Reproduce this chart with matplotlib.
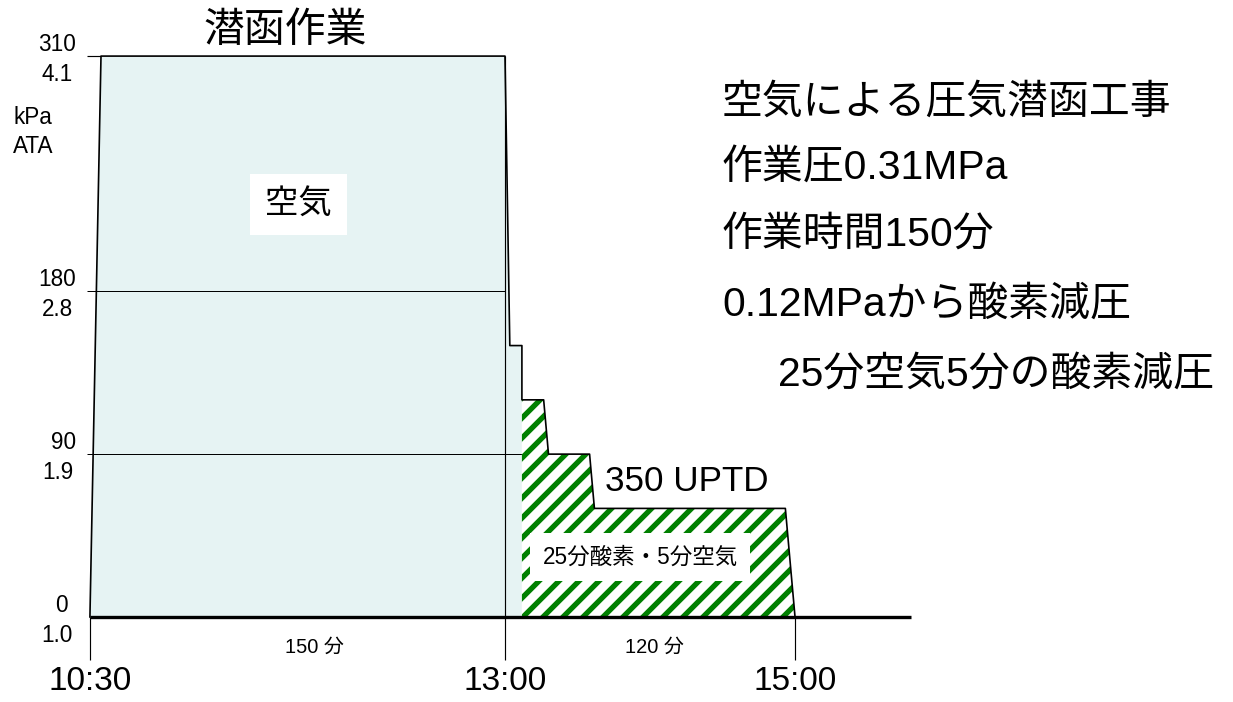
#caisson work pressure profile: air work, then oxygen decompression
import numpy as np
import matplotlib
matplotlib.use('Agg')
import matplotlib.pyplot as plt

plt.rcParams['font.family'] = ['Liberation Sans', 'Noto Sans CJK JP']

# pressure profile, minutes after 10:30 / gauge pressure kPa
prof_t = [0, 4, 150, 152, 157, 157, 166, 168, 185, 187, 266, 270]
prof_p = [0, 310, 310, 150, 150, 120, 120, 90, 90, 60, 60, 0]
o2_idx = 5                      # oxygen breathing starts at 0.12MPa

kpa_levels = [310, 180, 90, 0]
ata_labels = ['4.1', '2.8', '1.9', '1.0']
time_ticks = [0, 150, 270]
time_labels = ['10:30', '13:00', '15:00']
durations = [150, 120]
dur_pos = [81, 212]
notes = ['空気による圧気潜函工事', '作業圧0.31MPa', '作業時間150分',
         '0.12MPaから酸素減圧', '25分空気5分の酸素減圧']
uptd = 350

# time axis is drawn a bit compressed after 13:00
r = (290/120.)/(415/150.)
def fwd(m):
    m = np.asarray(m, dtype=float)
    return np.where(m <= 150, m, 150+(m-150)*r)
def inv(u):
    u = np.asarray(u, dtype=float)
    return np.where(u <= 150, u, 150+(u-150)/r)

dpi = 120
fig = plt.figure(figsize=(1233/dpi, 702/dpi), dpi=dpi)
ax = fig.add_axes([0, 0, 1, 1])
ax.set_xscale('function', functions=(fwd, inv))
ax.set_xlim(-32.5, float(inv(413.1)))
ax.set_ylim(-47, 341)
ax.axis('off')

t = np.array(prof_t, dtype=float)
p = np.array(prof_p, dtype=float)
t_o2 = t[o2_idx]

# air part (light blue) and oxygen part (white with green stripes)
ax.fill(np.r_[t[:o2_idx], t_o2], np.r_[p[:o2_idx], 0], facecolor='#e6f3f3',
        edgecolor='none', zorder=1)
o2_patch = ax.fill(np.r_[t[o2_idx:], t_o2], np.r_[p[o2_idx:], 0], facecolor='white',
                   edgecolor='none', zorder=3)[0]
W, H = fig.bbox.width, fig.bbox.height
step = 20.0
for x0 in np.arange(-H, W, step):
    ln, = ax.plot([x0/W, (x0+H)/W], [0, 1], transform=ax.transAxes,
                  color='#008000', lw=3.2, solid_capstyle='butt', zorder=3.5)
    ln.set_clip_path(o2_patch)

# reference levels
ax.hlines(kpa_levels[0], -1.1, t[1], color='black', lw=0.7, zorder=2)
ax.hlines(kpa_levels[1], -1.1, 150, color='black', lw=0.6, zorder=2)
ax.hlines(kpa_levels[2], -1.1, t_o2, color='black', lw=0.6, zorder=2)
ax.vlines(time_ticks, -23.8, [0, kpa_levels[0], 0], color='black', lw=0.7, zorder=4)

ax.plot(t, p, color='black', lw=1.0, zorder=5)
ax.plot([0, 318], [0, 0], color='black', lw=2.0, solid_capstyle='butt', zorder=6)

# axis labels
for lev, ata in zip(kpa_levels, ata_labels):
    ax.text(-5.1 if lev else -8.0, lev+6.5, str(lev), ha='right', va='center', fontsize=13.5)
    ax.text(-6.1, lev-10, ata, ha='right', va='center', fontsize=13.5)
ax.text(-20.6, 276, 'kPa', ha='center', va='center', fontsize=13.5)
ax.text(-20.6, 260, 'ATA', ha='center', va='center', fontsize=13.5)

for tt, lab in zip(time_ticks, time_labels):
    ax.text(tt, -35.4, lab, ha='center', va='center', fontsize=20)
for d, x in zip(durations, dur_pos):
    ax.text(x, -17, '%d 分' % d, ha='center', va='center', fontsize=12)

ax.text(70.5, 324, '潜函作業', ha='center', va='center', fontsize=24.5)
ax.text(75.5, 228, '空気', ha='center', va='center', fontsize=20, zorder=7,
        bbox=dict(boxstyle='square,pad=0.45', fc='white', ec='none'))
ax.text(225, 75, '%d UPTD' % uptd, ha='center', va='center', fontsize=21, zorder=7)
ax.text(206, 33, '25分酸素・5分空気', ha='center', va='center', fontsize=13.5, zorder=7,
        bbox=dict(boxstyle='square,pad=0.55', fc='white', ec='none'))

note_y = [103, 168, 236, 305, 375]
note_x = [722, 722, 722, 722, 778]
for txt, x, y in zip(notes, note_x, note_y):
    ax.text(x/1233., 1-y/702., txt, transform=ax.transAxes, ha='left', va='center',
            fontsize=24.5)

plt.savefig('out.png', dpi=dpi, facecolor='white')
